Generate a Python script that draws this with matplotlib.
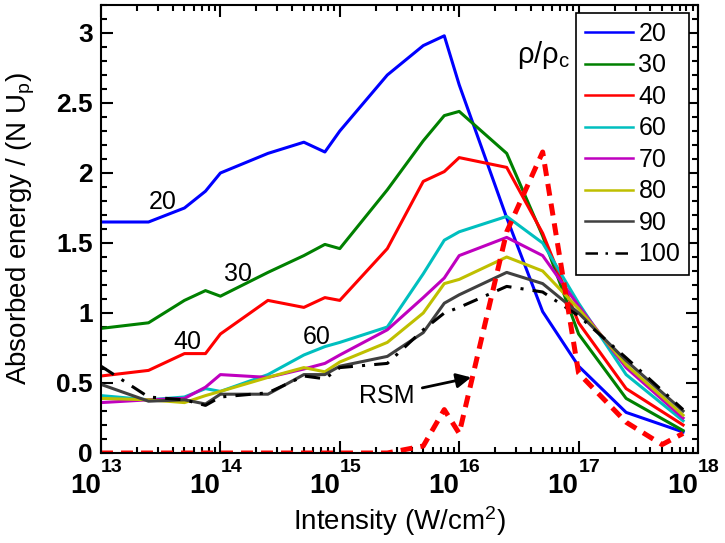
import matplotlib
matplotlib.use("Agg")
import matplotlib.pyplot as plt
import matplotlib.transforms as mtransforms
from matplotlib.ticker import MultipleLocator, LogLocator, FixedLocator

plt.rcParams['font.family'] = ['Liberation Sans', 'DejaVu Sans']
plt.rcParams['mathtext.fontset'] = 'custom'
plt.rcParams['mathtext.rm'] = 'Liberation Sans'
plt.rcParams['mathtext.it'] = 'Liberation Sans:italic'
plt.rcParams['mathtext.bf'] = 'Liberation Sans:bold'

# intensities (W/cm^2)
intensity = [1e13, 2.5e13, 5e13, 7.5e13, 1e14, 2.5e14, 5e14, 7.5e14, 1e15,
             2.5e15, 5e15, 7.5e15, 1e16, 2.5e16, 5e16, 1e17, 2.5e17, 7.5e17]

e20 = [1.65, 1.65, 1.75, 1.87, 2.00, 2.14, 2.22, 2.15, 2.30, 2.70, 2.91, 2.98,
       2.63, 1.68, 1.01, 0.62, 0.29, 0.15]
e30 = [0.89, 0.93, 1.09, 1.16, 1.12, 1.29, 1.41, 1.49, 1.46, 1.88, 2.23, 2.41,
       2.44, 2.14, 1.55, 0.85, 0.39, 0.16]
e40 = [0.55, 0.59, 0.71, 0.71, 0.85, 1.09, 1.04, 1.11, 1.09, 1.46, 1.94, 2.01,
       2.11, 2.04, 1.57, 0.93, 0.46, 0.20]
e60 = [0.41, 0.38, 0.40, 0.46, 0.44, 0.56, 0.70, 0.76, 0.79, 0.90, 1.28, 1.52,
       1.58, 1.69, 1.50, 1.07, 0.56, 0.23]
e70 = [0.36, 0.38, 0.39, 0.47, 0.56, 0.54, 0.60, 0.64, 0.70, 0.88, 1.11, 1.25,
       1.41, 1.54, 1.41, 1.05, 0.61, 0.25]
e80 = [0.39, 0.38, 0.36, 0.41, 0.44, 0.54, 0.61, 0.58, 0.65, 0.79, 1.00, 1.21,
       1.24, 1.40, 1.30, 1.03, 0.63, 0.27]
e90 = [0.49, 0.37, 0.38, 0.35, 0.42, 0.42, 0.56, 0.56, 0.62, 0.69, 0.86, 1.07,
       1.13, 1.29, 1.21, 1.00, 0.66, 0.30]
e100 = [0.62, 0.40, 0.38, 0.34, 0.40, 0.43, 0.55, 0.53, 0.61, 0.64, 0.88, 1.00,
        1.04, 1.19, 1.15, 0.98, 0.68, 0.31]

# RSM model
rsm_intensity = [1e13, 2.5e13, 5e13, 7.5e13, 1e14, 2.5e14, 5e14, 7.5e14, 1e15,
                 2.5e15, 5e15, 7.5e15, 1e16, 2.5e16, 5e16, 1e17, 2.5e17, 5e17, 7.5e17]
rsm = [0, 0, 0, 0, 0, 0, 0, 0, 0, 0, 0.05, 0.31, 0.14, 1.58, 2.15, 0.57, 0.22,
       0.06, 0.14]

decades = [13, 14, 15, 16, 17, 18]

fig = plt.figure(figsize=(7.25, 5.43), dpi=100)
ax = fig.add_axes([101/725, 90/543, 597/725, 448/543])

lw = 2.2
ax.plot(intensity, e20, color='#0000ff', lw=lw, label='20')
ax.plot(intensity, e30, color='#008000', lw=lw, label='30')
ax.plot(intensity, e40, color='#ff0000', lw=lw, label='40')
ax.plot(intensity, e60, color='#00bfbf', lw=lw, label='60')
ax.plot(intensity, e70, color='#bf00bf', lw=lw, label='70')
ax.plot(intensity, e80, color='#bfbf00', lw=lw, label='80')
ax.plot(intensity, e90, color='#404040', lw=lw, label='90')
ax.plot(intensity, e100, color='black', lw=lw, ls=(0, (5, 3, 1, 3)), label='100')
ax.plot(rsm_intensity, rsm, color='#ff0000', lw=3.6, ls=(0, (2.4, 1.6)))

ax.set_xscale('log')
ax.set_xlim(1e13, 1e18)
ax.set_ylim(0, 3.2)

ax.xaxis.set_major_locator(FixedLocator([10.0**d for d in decades]))
ax.xaxis.set_minor_locator(LogLocator(base=10, subs=range(2, 10), numticks=20))
ax.set_xticklabels([''] * len(decades))
ax.yaxis.set_minor_locator(MultipleLocator(0.1))
ax.set_yticks([0, 0.5, 1, 1.5, 2, 2.5, 3])
ax.set_yticklabels(['0', '0.5', '1', '1.5', '2', '2.5', '3'])

# MATLAB style 10^n labels, exponent raised well above the base
trans = mtransforms.blended_transform_factory(ax.transData, ax.transAxes)
for d in decades:
    ax.text(10.0**d, -0.045, '10', transform=trans, fontsize=20,
            fontweight='bold', ha='right', va='top', clip_on=False)
    ax.text(10.0**d, -0.014, str(d), transform=trans, fontsize=14,
            fontweight='bold', ha='left', va='top', clip_on=False)

ax.tick_params(which='both', direction='in', top=True, right=True, width=1.5)
ax.tick_params(which='major', length=8.5)
ax.tick_params(which='minor', length=4.5)
ax.tick_params(axis='y', labelsize=19, pad=6)
for lab in ax.get_yticklabels():
    lab.set_fontweight('bold')
for sp in ax.spines.values():
    sp.set_linewidth(1.5)

ax.set_xlabel('Intensity (W/cm$^2$)', fontsize=20)
ax.set_ylabel('Absorbed energy / (N U$_\\mathrm{p}$)', fontsize=20)
ax.xaxis.set_label_coords(0.5, -0.115)
ax.yaxis.set_label_coords(-0.108, 0.5)

ax.text(10**13.52, 1.79, '20', fontsize=18, ha='center', va='center')
ax.text(10**14.15, 1.28, '30', fontsize=18, ha='center', va='center')
ax.text(10**13.72, 0.79, '40', fontsize=18, ha='center', va='center')
ax.text(10**14.81, 0.83, '60', fontsize=18, ha='center', va='center')
ax.text(10**16.71, 2.84, 'ρ/ρ$_\\mathrm{c}$', fontsize=21, ha='center', va='center')
ax.annotate('RSM', xy=(10**16.1, 0.54), xytext=(10**15.39, 0.41),
            fontsize=18, ha='center', va='center',
            arrowprops=dict(arrowstyle='-|>', color='black', lw=2,
                            mutation_scale=22, shrinkA=4, shrinkB=0))

leg = ax.legend(loc='upper right', bbox_to_anchor=(0.985, 0.982),
                borderaxespad=0, fontsize=18, frameon=True, fancybox=False,
                edgecolor='black', framealpha=1, labelspacing=0.3,
                handlelength=1.95, handletextpad=0.2, borderpad=0.35)
leg.get_frame().set_linewidth(1.2)
for h in leg.get_lines():
    h.set_linewidth(1.8)

fig.savefig('out.png', dpi=100)
